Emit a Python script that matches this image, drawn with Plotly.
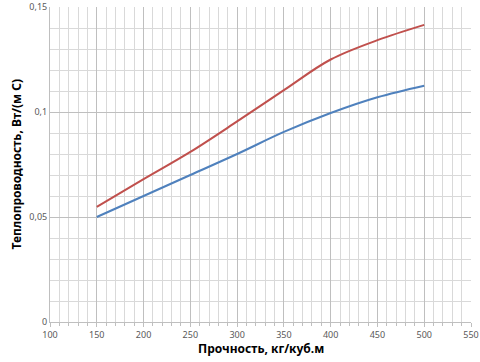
import plotly.graph_objects as go

x_vals = [150, 200, 250, 300, 350, 400, 450, 500]
blue_vals = [0.050, 0.060, 0.070, 0.080, 0.0905, 0.0995, 0.107, 0.1125]
red_vals = [0.0548, 0.068, 0.081, 0.0955, 0.1104, 0.125, 0.1342, 0.1415]

x_title = "Прочность, кг/куб.м"
y_title = "Теплопроводность, Вт/(м С)"

fig = go.Figure()
fig.add_trace(go.Scatter(x=x_vals, y=blue_vals, mode="lines",
                         line=dict(color="#4F81BD", width=2, shape="spline", smoothing=1.0), showlegend=False))
fig.add_trace(go.Scatter(x=x_vals, y=red_vals, mode="lines",
                         line=dict(color="#C0504D", width=2, shape="spline", smoothing=1.0), showlegend=False))

L, R, T, B = 50, 9, 7, 40
W, H = 480, 362
pw, ph = W - L - R, H - T - B

fig.update_layout(
    width=W, height=H,
    margin=dict(l=L, r=R, t=T, b=B),
    paper_bgcolor="white", plot_bgcolor="white",
    separators=", ",
    font=dict(family="Noto Sans, DejaVu Sans", color="#595959"),
    xaxis=dict(
        range=[100, 550], dtick=50, tick0=100, automargin=False,
        showgrid=True, gridcolor="#BFBFBF", gridwidth=1,
        minor=dict(dtick=10, showgrid=True, gridcolor="#D9D9D9", gridwidth=1,
                   ticks="outside", ticklen=3, tickcolor="#BFBFBF"),
        showline=True, linecolor="#BFBFBF", zeroline=False,
        ticks="outside", ticklen=4, tickcolor="#BFBFBF",
        tickfont=dict(size=9, color="#595959"),
    ),
    yaxis=dict(
        range=[0, 0.15], dtick=0.05, tick0=0, automargin=False,
        showgrid=True, gridcolor="#BFBFBF", gridwidth=1,
        minor=dict(dtick=0.01, showgrid=True, gridcolor="#D9D9D9", gridwidth=1),
        showline=True, linecolor="#BFBFBF", zeroline=False,
        ticks="",
        tickfont=dict(size=9, color="#595959"),
    ),
    annotations=[
        dict(text="<b>" + x_title + "</b>", xref="paper", yref="paper",
             x=(261 - L) / pw, y=-(348 - (H - B)) / ph, xanchor="center", yanchor="middle",
             showarrow=False, font=dict(size=12, color="#000000")),
        dict(text="<b>" + y_title + "</b>", xref="paper", yref="paper",
             x=(16 - L) / pw, y=0.5, xanchor="center", yanchor="middle", textangle=-90,
             showarrow=False, font=dict(size=12, color="#000000")),
    ],
)

fig.write_html("out.html")
